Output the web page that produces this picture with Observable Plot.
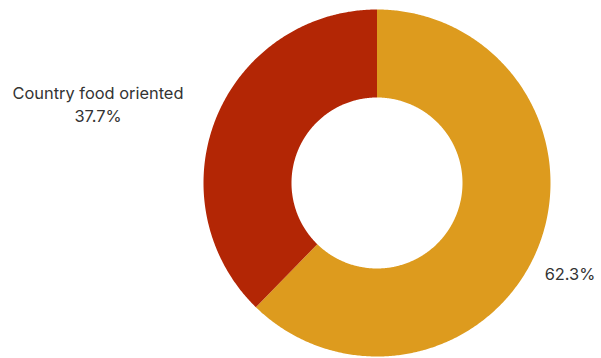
<!DOCTYPE html>
<html><head><meta charset="utf-8">
<script src="https://cdn.jsdelivr.net/npm/d3@7"></script>
<script src="https://cdn.jsdelivr.net/npm/@observablehq/plot@0.6"></script>
<style>html,body{margin:0;padding:0;background:#fff;}</style>
</head><body><div id="chart"></div>
<script>
// Data
const categories = ["", "Country food oriented"];
const values = [62.3, 37.7];
const colors = ["#dd9b1e", "#b32605"];

// Layout (pixels)
const W = 601, H = 358;
const cx = 376.5, cy = 182.5, R = 173.5, r = 85.5;
const labelPos = [[569.5, 279.3], [97.5, 98.5]]; // baseline of first line
const lineGap = 23;
const fs = 16.4;

const pie = d3.pie().sort(null).startAngle(0).endAngle(2 * Math.PI)(values);
const total = d3.sum(values);

const polys = [];
pie.forEach((s, i) => {
  const n = Math.max(8, Math.ceil((s.endAngle - s.startAngle) / (Math.PI / 360)));
  const pts = [];
  for (let k = 0; k <= n; k++) {
    const a = s.startAngle + (s.endAngle - s.startAngle) * k / n;
    pts.push({x: cx + R * Math.sin(a), y: cy - R * Math.cos(a)});
  }
  for (let k = n; k >= 0; k--) {
    const a = s.startAngle + (s.endAngle - s.startAngle) * k / n;
    pts.push({x: cx + r * Math.sin(a), y: cy - r * Math.cos(a)});
  }
  polys.push(pts);
});

const texts = [];
categories.forEach((c, i) => {
  const pct = (values[i] / total * 100).toFixed(1) + "%";
  const lines = c ? [c, pct] : [pct];
  lines.forEach((t, j) => texts.push({x: labelPos[i][0], y: labelPos[i][1] + j * lineGap - 0.32 * fs, text: t}));
});

const chart = Plot.plot({
  width: W, height: H,
  margin: 0,
  style: {fontFamily: "Inter, sans-serif", background: "#fff"},
  x: {domain: [0, W], range: [0, W], axis: null},
  y: {domain: [0, H], range: [0, H], axis: null},
  marks: [
    ...polys.map((p, i) => Plot.line(p, {x: "x", y: "y", curve: "linear-closed", fill: colors[i], stroke: "none"})),
    Plot.text(texts, {x: "x", y: "y", text: "text", textAnchor: "middle", lineAnchor: "middle", fontSize: fs, fill: "#333"})
  ]
});
document.getElementById("chart").appendChild(chart);
</script>
</body></html>
